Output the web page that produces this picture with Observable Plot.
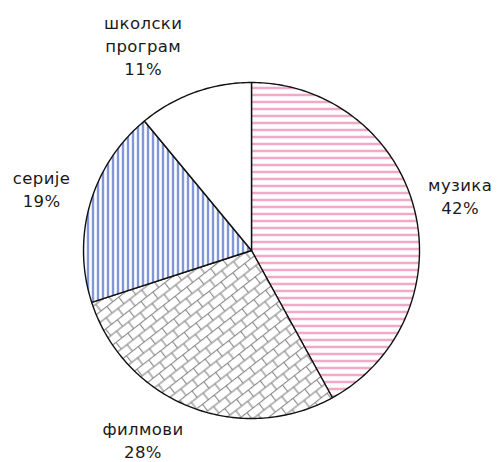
<!DOCTYPE html>
<html>
<head>
<meta charset="utf-8">
<script src="https://cdn.jsdelivr.net/npm/d3@7"></script>
<script src="https://cdn.jsdelivr.net/npm/@observablehq/plot@0.6"></script>
<style>
  html, body { margin: 0; padding: 0; background: #fff; }
  svg text { letter-spacing: 0.4px; }
</style>
</head>
<body>
<div id="chart"></div>
<script>
const categories = ["музика", "филмови", "серије", "школски програм"];
const values = [42, 28, 19, 11];
const patternIds = ["pPink", "pGray", "pBlue", "pWhite"];

// layout: labels sit radially outside the pie, with a small pixel nudge
const R = 168;
const labelRadius = 1.27;
const labelNudge = [[2, -2], [-30, -10], [-5, -3], [-36, -5]];

const arcs = d3.pie().sort(null).value(d => d)(values);

const slices = arcs.map((a) => {
  const pts = [{x: 0, y: 0}];
  const n = Math.max(8, Math.ceil((a.endAngle - a.startAngle) * 60));
  for (let k = 0; k <= n; k++) {
    const t = a.startAngle + (a.endAngle - a.startAngle) * k / n;
    pts.push({x: Math.sin(t), y: Math.cos(t)});
  }
  pts.push({x: 0, y: 0});
  return pts;
});

const labels = arcs.map((a, i) => {
  const m = (a.startAngle + a.endAngle) / 2;
  return {
    x: labelRadius * Math.sin(m) + labelNudge[i][0] / R,
    y: labelRadius * Math.cos(m) - labelNudge[i][1] / R,
    text: categories[i].replace(" ", "\n") + "\n" + values[i] + "%"
  };
});

const plot = Plot.plot({
  width: 502,
  height: 462,
  marginLeft: 83,
  marginRight: 83,
  marginTop: 82,
  marginBottom: 44,
  x: {domain: [-1, 1], axis: null},
  y: {domain: [-1, 1], axis: null},
  style: {fontFamily: "'DejaVu Sans', Verdana, sans-serif", background: "#fff"},
  marks: [
    ...slices.map((s, i) => Plot.line(s, {
      x: "x", y: "y",
      fill: `url(#${patternIds[i]})`,
      stroke: "#111",
      strokeWidth: 1.4,
      curve: "linear"
    })),
    Plot.text(labels, {
      x: "x", y: "y", text: "text",
      fontSize: 16.5,
      lineHeight: 1.4,
      fill: "#1a1a1a",
      textAnchor: "middle"
    })
  ]
});

const svg = d3.select(plot);
const defs = svg.insert("defs", ":first-child");

const pink = defs.append("pattern").attr("id", "pPink").attr("patternUnits", "userSpaceOnUse")
  .attr("width", 7).attr("height", 7);
pink.append("rect").attr("width", 7).attr("height", 7).attr("fill", "#fff");
pink.append("line").attr("x1", 0).attr("x2", 7).attr("y1", 3.5).attr("y2", 3.5)
  .attr("stroke", "#ea7fac").attr("stroke-width", 1.7);

const blue = defs.append("pattern").attr("id", "pBlue").attr("patternUnits", "userSpaceOnUse")
  .attr("width", 5).attr("height", 5);
blue.append("rect").attr("width", 5).attr("height", 5).attr("fill", "#fff");
blue.append("line").attr("x1", 2.5).attr("x2", 2.5).attr("y1", 0).attr("y2", 5)
  .attr("stroke", "#3558c0").attr("stroke-width", 1.5);

const gc = "#8a8a8a", gw = 1.2;
const gray = defs.append("pattern").attr("id", "pGray").attr("patternUnits", "userSpaceOnUse")
  .attr("width", 15).attr("height", 17).attr("patternTransform", "rotate(-38)");
gray.append("rect").attr("width", 15).attr("height", 17).attr("fill", "#fff");
gray.append("line").attr("x1", 0).attr("x2", 15).attr("y1", 0.5).attr("y2", 0.5)
  .attr("stroke", gc).attr("stroke-width", gw);
gray.append("line").attr("x1", 0).attr("x2", 15).attr("y1", 9).attr("y2", 9)
  .attr("stroke", gc).attr("stroke-width", gw);
gray.append("line").attr("x1", 0.5).attr("x2", 0.5).attr("y1", 0).attr("y2", 9)
  .attr("stroke", gc).attr("stroke-width", gw);
gray.append("line").attr("x1", 8).attr("x2", 8).attr("y1", 9).attr("y2", 17)
  .attr("stroke", gc).attr("stroke-width", gw);

const white = defs.append("pattern").attr("id", "pWhite").attr("patternUnits", "userSpaceOnUse")
  .attr("width", 4).attr("height", 4);
white.append("rect").attr("width", 4).attr("height", 4).attr("fill", "#fff");

document.getElementById("chart").appendChild(plot);
</script>
</body>
</html>
